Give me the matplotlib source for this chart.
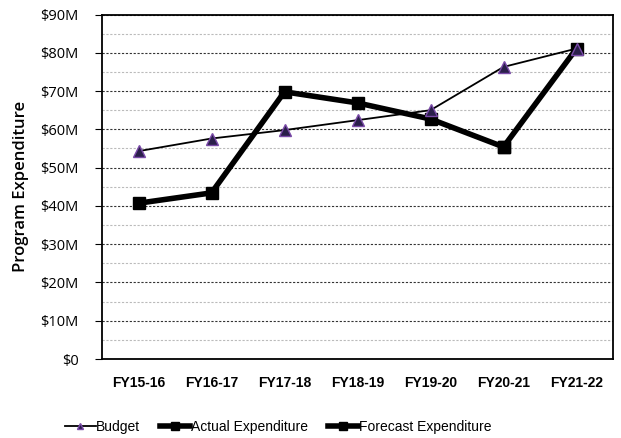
import matplotlib
matplotlib.use("Agg")
import matplotlib.pyplot as plt
from matplotlib.ticker import MultipleLocator, FuncFormatter

categories = ["FY15-16", "FY16-17", "FY17-18", "FY18-19", "FY19-20", "FY20-21", "FY21-22"]
budget = [54.3, 57.6, 59.8, 62.4, 65.0, 76.3, 81.1]
actual = [40.7, 43.4, 69.8, 66.9, 62.7, 55.4, None]
forecast = [None, None, None, None, None, 55.4, 81.1]

fig = plt.figure(figsize=(6.21, 4.38), dpi=100)
ax = fig.add_axes([102/621, 1-359/438, 511/621, (359-14.5)/438])

x = list(range(len(categories)))
ax.plot(x, budget, color="black", lw=1.3, marker="^", ms=8,
        mfc="#2a1f4a", mec="#7a4aa8", mew=1.0, label="Budget", zorder=4)
xa = [i for i, v in zip(x, actual) if v is not None]
ya = [v for v in actual if v is not None]
ax.plot(xa, ya, color="black", lw=4, marker="s", ms=9, label="Actual Expenditure", zorder=3,
        solid_joinstyle="miter")
xf = [i for i, v in zip(x, forecast) if v is not None]
yf = [v for v in forecast if v is not None]
ax.plot(xf, yf, color="black", lw=4, marker="s", ms=9, label="Forecast Expenditure", zorder=3)

ax.set_xlim(-0.5, 6.5)
ax.set_ylim(0, 90)
ax.yaxis.set_major_locator(MultipleLocator(10))
ax.yaxis.set_minor_locator(MultipleLocator(5))
ax.yaxis.set_major_formatter(FuncFormatter(lambda v, p: "$0" if v == 0 else f"${int(v)}M"))
ax.grid(which="major", axis="y", color="#333333", ls=(0, (2, 1.5)), lw=0.8)
ax.grid(which="minor", axis="y", color="#bbbbbb", ls=(0, (2, 1.5)), lw=0.8)
ax.set_axisbelow(True)
ax.set_xticks(x)
ax.set_xticklabels(categories, fontfamily="Liberation Sans", fontweight="bold", fontsize=10)
ax.tick_params(axis="x", length=0, pad=12)
ax.tick_params(axis="y", which="major", length=5, direction="out", labelsize=10.5, pad=12)
ax.tick_params(axis="y", which="minor", length=0)
for lbl in ax.get_yticklabels():
    lbl.set_fontfamily("Open Sans")
for s in ax.spines.values():
    s.set_linewidth(1.3)
    s.set_color("black")
ax.set_ylabel("Program Expenditure", fontfamily="Open Sans", fontsize=12, fontweight="semibold", labelpad=8)

leg = fig.legend(loc="center", bbox_to_anchor=(0.448, 1-427/438), ncol=3, frameon=False,
                 prop={"family": "Liberation Sans", "size": 10}, handlelength=2.2,
                 handletextpad=0.05, columnspacing=1.4, markerscale=0.6)
fig.savefig("out.png", dpi=100)
